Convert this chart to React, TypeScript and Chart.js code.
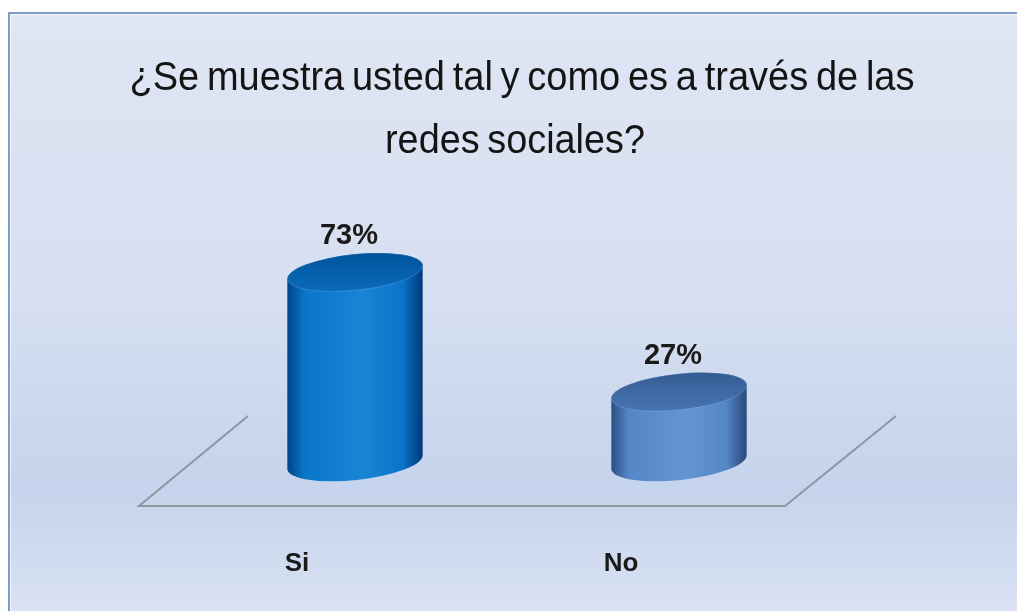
import React, { useEffect, useRef } from "react";
import { Chart, registerables } from "chart.js";

Chart.register(...registerables);

const titleLines = ["¿Se muestra usted tal y como es a través de las", "redes sociales?"];
const categories = ["Si", "No"];
const percentValues = [73, 27];
const valueLabels = ["73%", "27%"];

const palettes = [
  { edgeL: "#00539f", mid: "#0a7dd3", edgeR: "#004a8f", topBack: "#00559c", topFront: "#0a6aba" },
  { edgeL: "#36629c", mid: "#5a8fd1", edgeR: "#335c92", topBack: "#355d95", topFront: "#4674b1" },
];

const titleWidths = [785, 260];

function drawCylinder(ctx: CanvasRenderingContext2D, cx: number, yTop: number, yBase: number, w: number, pal: any) {
  const rx = w / 2;
  const ry = 18;
  const rot = -0.105;
  const dx = rx * Math.cos(rot);
  const dy = rx * Math.sin(rot);
  ctx.save();
  ctx.beginPath();
  ctx.moveTo(cx - dx, yTop - dy);
  ctx.lineTo(cx - dx, yBase - dy);
  ctx.ellipse(cx, yBase, rx, ry, rot, Math.PI, 0, true);
  ctx.lineTo(cx + dx, yTop + dy);
  ctx.ellipse(cx, yTop, rx, ry, rot, 0, Math.PI, true);
  ctx.closePath();
  const g = ctx.createLinearGradient(cx - rx, 0, cx + rx, 0);
  g.addColorStop(0, pal.edgeL);
  g.addColorStop(0.12, pal.mid);
  g.addColorStop(0.55, pal.mid);
  g.addColorStop(0.85, pal.mid);
  g.addColorStop(1, pal.edgeR);
  ctx.fillStyle = g;
  ctx.fill();
  const g2 = ctx.createLinearGradient(cx - rx, 0, cx + rx, 0);
  g2.addColorStop(0, "rgba(0,0,40,0.2)");
  g2.addColorStop(0.15, "rgba(0,0,40,0.05)");
  g2.addColorStop(0.55, "rgba(255,255,255,0.06)");
  g2.addColorStop(0.85, "rgba(0,0,40,0.06)");
  g2.addColorStop(1, "rgba(0,0,40,0.22)");
  ctx.fillStyle = g2;
  ctx.fill();
  ctx.beginPath();
  ctx.ellipse(cx, yTop, rx, ry, rot, 0, Math.PI * 2);
  const gt = ctx.createLinearGradient(0, yTop - ry, 0, yTop + ry);
  gt.addColorStop(0, pal.topBack);
  gt.addColorStop(1, pal.topFront);
  ctx.fillStyle = gt;
  ctx.fill();
  ctx.lineWidth = 1;
  ctx.strokeStyle = "rgba(255,255,255,0.15)";
  ctx.stroke();
  ctx.restore();
}

const decorPlugin = {
  id: "decor",
  beforeDraw(chart: any) {
    const { ctx, width, height } = chart;
    ctx.save();
    const bg = ctx.createLinearGradient(0, 0, 0, height);
    bg.addColorStop(0, "#dfe6f4");
    bg.addColorStop(0.5, "#d6dff1");
    bg.addColorStop(0.8, "#c5d3ec");
    bg.addColorStop(1, "#dae2f3");
    ctx.fillStyle = "#ffffff";
    ctx.fillRect(0, 0, width, height);
    ctx.fillStyle = bg;
    ctx.fillRect(9, 13, width - 9, height - 13);
    ctx.strokeStyle = "#7d9cca";
    ctx.lineWidth = 2;
    ctx.beginPath();
    ctx.moveTo(9, height + 5);
    ctx.lineTo(9, 13);
    ctx.lineTo(width + 5, 13);
    ctx.stroke();
    ctx.strokeStyle = "rgba(255,255,255,0.7)";
    ctx.lineWidth = 1;
    ctx.beginPath();
    ctx.moveTo(10.5, height);
    ctx.lineTo(10.5, 14.5);
    ctx.lineTo(width, 14.5);
    ctx.stroke();
    // title
    ctx.fillStyle = "#141414";
    ctx.font = "40px 'Liberation Sans', Arial, sans-serif";
    (ctx as any).wordSpacing = "-3px";
    ctx.textAlign = "center";
    ctx.textBaseline = "alphabetic";
    ctx.fillText(titleLines[0], 522, 90, titleWidths[0]);
    ctx.fillText(titleLines[1], 515, 153, titleWidths[1]);
    (ctx as any).wordSpacing = "0px";
    // floor
    const area = chart.chartArea;
    const y0 = chart.scales.y.getPixelForValue(0);
    const yFront = y0 + 44;
    const yBack = y0 - 46;
    ctx.strokeStyle = "#8e969e";
    ctx.lineWidth = 2;
    ctx.beginPath();
    ctx.moveTo(area.left + 55, yBack);
    ctx.lineTo(area.left - 54, yFront);
    ctx.lineTo(area.right - 56, yFront);
    ctx.lineTo(area.right + 55, yBack);
    ctx.stroke();
    ctx.restore();
  },
  afterDatasetsDraw(chart: any) {
    const { ctx } = chart;
    const meta = chart.getDatasetMeta(0);
    const xScale = chart.scales.x;
    const y0 = chart.scales.y.getPixelForValue(0);
    meta.data.forEach((bar: any, i: number) => {
      drawCylinder(ctx, bar.x, bar.y, bar.base, bar.width, palettes[i % palettes.length]);
      ctx.save();
      ctx.fillStyle = "#1a1a1a";
      ctx.font = "bold 29px 'Liberation Sans', Arial, sans-serif";
      ctx.textAlign = "center";
      ctx.textBaseline = "middle";
      ctx.fillText(valueLabels[i], bar.x - 6, bar.y - 36);
      ctx.restore();
    });
    ctx.save();
    ctx.fillStyle = "#1a1a1a";
    ctx.font = "bold 26px 'Liberation Sans', Arial, sans-serif";
    ctx.textAlign = "center";
    ctx.textBaseline = "middle";
    categories.forEach((c, i) => {
      ctx.fillText(c, xScale.getPixelForValue(i) - 58, y0 + 102);
    });
    ctx.restore();
  },
};

export default function App() {
  const ref = useRef<HTMLCanvasElement>(null);
  useEffect(() => {
    if (!ref.current) return;
    const chart = new Chart(ref.current, {
      type: "bar",
      data: {
        labels: categories,
        datasets: [
          {
            data: percentValues,
            backgroundColor: "rgba(0,0,0,0)",
            borderWidth: 0,
            barThickness: 136,
          },
        ],
      },
      options: {
        responsive: false,
        animation: false,
        layout: { padding: { left: 193, right: 176, top: 202, bottom: 149 } },
        scales: {
          x: { display: false, offset: true },
          y: { display: false, min: 0, max: 100 },
        },
        plugins: {
          legend: { display: false },
          tooltip: { enabled: false },
          title: { display: false },
        },
      },
      plugins: [decorPlugin],
    });
    return () => chart.destroy();
  }, []);
  return (
    <canvas
      ref={ref}
      width={1017}
      height={611}
      style={{ position: "absolute", left: 0, top: 0, display: "block", width: 1017, height: 611 }}
    />
  );
}
